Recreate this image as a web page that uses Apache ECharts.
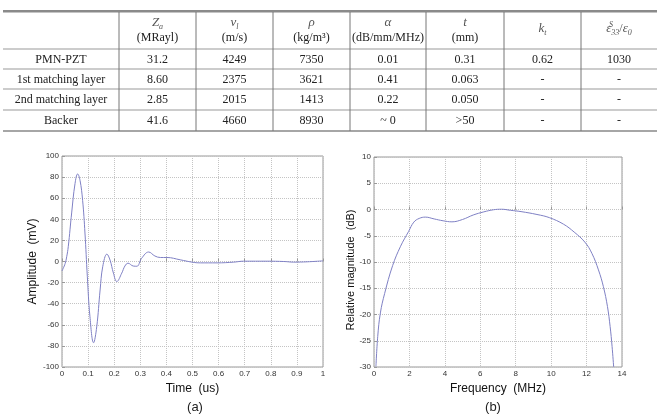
<!DOCTYPE html>
<html>
<head>
<meta charset="utf-8">
<script src="https://cdn.jsdelivr.net/npm/echarts@6/dist/echarts.min.js"></script>
<style>
  html, body { margin: 0; padding: 0; background: #fff; }
  #chart { width: 657px; height: 415px; }
</style>
</head>
<body>
<div id="chart"></div>
<script>
// table data
const headSymbols = ['{i|Z}{s|a}', '{i|v}{s|l}', '{i|ρ}', '{i|α}', '{i|t}', '{i|k}{s|t}', '{i|ε}{s|33}{n|/}{i|ε}{s|0}']
const headUnits = ['(MRayl)', '(m/s)', '(kg/m³)', '(dB/mm/MHz)', '(mm)', '', '']
const rowNames = ['PMN-PZT', '1st matching layer', '2nd matching layer', 'Backer']
const rowPmn = ['31.2', '4249', '7350', '0.01', '0.31', '0.62', '1030']
const rowMatch1 = ['8.60', '2375', '3621', '0.41', '0.063', '-', '-']
const rowMatch2 = ['2.85', '2015', '1413', '0.22', '0.050', '-', '-']
const rowBacker = ['41.6', '4660', '8930', '~ 0', '>50', '-', '-']

// (a) pulse echo
const timeUs = [0, 0.012, 0.018, 0.024, 0.037, 0.05, 0.06, 0.069, 0.079, 0.088, 0.097, 0.107, 0.121,
  0.133, 0.146, 0.156, 0.172, 0.184, 0.197, 0.21, 0.229, 0.241, 0.253, 0.273, 0.287, 0.305, 0.332,
  0.356, 0.377, 0.402, 0.453, 0.498, 0.53, 0.594, 0.658, 0.696, 0.785, 0.85, 0.888, 0.939, 1.0]
const amplitudeMv = [-9, -2, 4.5, 14, 46, 74, 83, 77, 58, 27, -14, -52, -77,
  -62, -27, -5, 7, 1.4, -11, -19, -11, -4.3, -1.6, -4.3, -4.5, 3, 9,
  5.2, 3.8, 3.8, 1.6, -0.6, -1.3, -1.3, -0.6, 0.3, 0.3, 0, -0.6, -0.3, 0.6]

// (b) spectrum
const freqMHz = [0.11, 0.21, 0.36, 0.6, 1.05, 1.5, 1.95, 2.25, 2.55, 2.9, 3.4, 3.9, 4.4, 5.0, 5.6,
  6.2, 6.75, 7.2, 7.7, 8.3, 9.2, 9.9, 10.7, 11.3, 11.9, 12.3, 12.67, 12.95, 13.18, 13.33, 13.44, 13.53]
const magDb = [-29.9, -24.2, -19.7, -16, -10.7, -7, -4.2, -2.4, -1.7, -1.45, -1.8, -2.15, -2.35, -1.9, -1.05,
  -0.45, -0.05, 0.05, -0.15, -0.4, -0.95, -1.55, -2.8, -4.3, -6.2, -8.35, -11.5, -14.7, -18.5, -22.3, -26.1, -30]

const serif = '"Liberation Serif", "DejaVu Serif", serif'
const sans = '"Liberation Sans", Arial, sans-serif'
const lineColor = '#7f80c4'

// table layout
const colX = [3, 119, 196, 273, 350, 426, 504, 581, 657]
const rowLineY = [49, 69, 89, 110]
const rowTextY = [60, 79.5, 100, 120.5]

function buildTable() {
  const g = []
  g.push({ type: 'rect', shape: { x: 3, y: 10, width: 654, height: 2.5 }, style: { fill: '#8a8a8a' } })
  rowLineY.forEach(y => g.push({ type: 'line', shape: { x1: 3, y1: y, x2: 657, y2: y }, style: { stroke: '#999', lineWidth: 1 } }))
  g.push({ type: 'line', shape: { x1: 3, y1: 131, x2: 657, y2: 131 }, style: { stroke: '#888', lineWidth: 1.5 } })
  colX.slice(1, -1).forEach(x => g.push({ type: 'line', shape: { x1: x, y1: 12, x2: x, y2: 131 }, style: { stroke: '#777', lineWidth: 1 } }))

  const rich = {
    i: { fontFamily: serif, fontStyle: 'italic', fontSize: 13, fill: '#555' },
    s: { fontFamily: serif, fontStyle: 'italic', fontSize: 8, fill: '#555', padding: [7, 0, 0, 0] },
    n: { fontFamily: serif, fontSize: 12, fill: '#555' }
  }
  headSymbols.forEach((sym, k) => {
    const cx = (colX[k + 1] + colX[k + 2]) / 2
    const hasUnit = headUnits[k] !== ''
    g.push({ type: 'text', x: cx, y: hasUnit ? 23 : 29, style: { text: sym, rich, align: 'center', verticalAlign: 'middle' } })
    if (hasUnit) {
      g.push({ type: 'text', x: cx, y: 38, style: { text: headUnits[k], fontFamily: serif, fontSize: 12, fill: '#222', align: 'center', verticalAlign: 'middle' } })
    }
  })
  // superscript S over the 33
  g.push({ type: 'text', x: 611, y: 25, style: { text: 'S', fontFamily: serif, fontStyle: 'italic', fontSize: 8, fill: '#555', align: 'center', verticalAlign: 'middle' } })

  const rows = [rowPmn, rowMatch1, rowMatch2, rowBacker]
  rows.forEach((vals, r) => {
    const y = rowTextY[r]
    g.push({ type: 'text', x: (colX[0] + colX[1]) / 2, y, style: { text: rowNames[r], fontFamily: serif, fontSize: 12, fill: '#222', align: 'center', verticalAlign: 'middle' } })
    vals.forEach((v, k) => {
      g.push({ type: 'text', x: (colX[k + 1] + colX[k + 2]) / 2, y, style: { text: v, fontFamily: serif, fontSize: 12, fill: '#222', align: 'center', verticalAlign: 'middle' } })
    })
  })

  // y name of (b) sits a bit below the plot middle
  g.push({ type: 'text', x: 351, y: 270, rotation: Math.PI / 2, style: { text: 'Relative magnitude  (dB)', fontFamily: sans, fontSize: 11, fill: '#111', align: 'center', verticalAlign: 'middle' } })

  g.push({ type: 'text', x: 195, y: 407, style: { text: '(a)', fontFamily: sans, fontSize: 13, fill: '#222', align: 'center', verticalAlign: 'middle' } })
  g.push({ type: 'text', x: 493, y: 407, style: { text: '(b)', fontFamily: sans, fontSize: 13, fill: '#222', align: 'center', verticalAlign: 'middle' } })
  return g
}

const tickLabel = { fontFamily: sans, fontSize: 8, color: '#333' }
const gridLine = { show: true, lineStyle: { color: '#c4c4c4', type: 'dotted', width: 1 } }
const nameStyle = { fontFamily: sans, fontSize: 12, color: '#111' }

const chart = echarts.init(document.getElementById('chart'))
chart.setOption({
  animation: false,
  graphic: buildTable(),
  grid: [
    { left: 62, top: 156, width: 261, height: 211, show: true, borderColor: '#999', borderWidth: 1 },
    { left: 374, top: 157, width: 248, height: 210, show: true, borderColor: '#999', borderWidth: 1 }
  ],
  xAxis: [
    {
      gridIndex: 0, type: 'value', min: 0, max: 1, interval: 0.1,
      name: 'Time  (us)', nameLocation: 'middle', nameGap: 9, nameTextStyle: nameStyle,
      axisLine: { show: false }, axisTick: { inside: true, length: 3, lineStyle: { color: '#999' } },
      axisLabel: { ...tickLabel, margin: 3 }, splitLine: gridLine
    },
    {
      gridIndex: 1, type: 'value', min: 0, max: 14, interval: 2,
      name: 'Frequency  (MHz)', nameLocation: 'middle', nameGap: 9, nameTextStyle: nameStyle,
      axisLine: { show: false }, axisTick: { inside: true, length: 3, lineStyle: { color: '#999' } },
      axisLabel: { ...tickLabel, margin: 3 }, splitLine: gridLine
    }
  ],
  yAxis: [
    {
      gridIndex: 0, type: 'value', min: -100, max: 100, interval: 20,
      name: 'Amplitude  (mV)', nameLocation: 'middle', nameGap: 19, nameTextStyle: nameStyle,
      axisLine: { show: false }, axisTick: { inside: true, length: 3, lineStyle: { color: '#999' } },
      axisLabel: { ...tickLabel, margin: 3 }, splitLine: gridLine
    },
    {
      gridIndex: 1, type: 'value', min: -30, max: 10, interval: 5,
      axisLine: { show: false }, axisTick: { inside: true, length: 3, lineStyle: { color: '#999' } },
      axisLabel: { ...tickLabel, margin: 3 }, splitLine: gridLine
    }
  ],
  series: [
    {
      type: 'line', xAxisIndex: 0, yAxisIndex: 0, smooth: 0.4, showSymbol: false,
      lineStyle: { color: lineColor, width: 1 },
      data: timeUs.map((t, k) => [t, amplitudeMv[k]])
    },
    {
      type: 'line', xAxisIndex: 1, yAxisIndex: 1, smooth: 0.4, showSymbol: false, clip: true,
      lineStyle: { color: lineColor, width: 1 },
      data: freqMHz.map((f, k) => [f, magDb[k]])
    }
  ]
})
</script>
</body>
</html>
